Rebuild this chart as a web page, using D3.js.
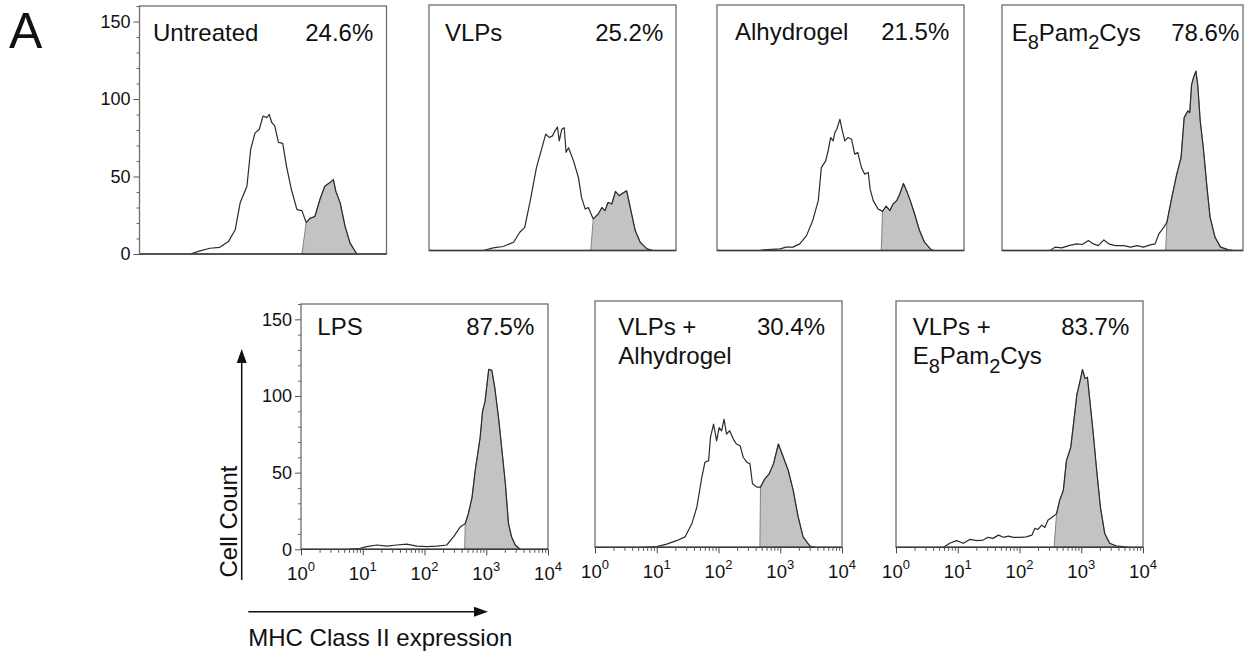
<!DOCTYPE html>
<html><head><meta charset="utf-8">
<script src="https://cdn.jsdelivr.net/npm/d3@7"></script>
<style>
body{margin:0;background:#fff}
svg{display:block}
text{font-family:"Liberation Sans",Arial,Helvetica,sans-serif;fill:#111}
</style>
</head><body>
<svg id="chart" width="1244" height="657"></svg>
<script>
// ---------------- DATA ----------------
const panelLines = [["Untreated"],["VLPs"],["Alhydrogel"],["E_8Pam_2Cys"],["LPS"],["VLPs +","Alhydrogel"],["VLPs +","E_8Pam_2Cys"]];
const panelPercents = ["24.6%","25.2%","21.5%","78.6%","87.5%","30.4%","83.7%"];
const gateExponents = [2.63,2.62,2.66,2.65,2.65,2.67,2.56];
const yTickValues = [0,50,100,150];
const yMinorValues = [0,10,20,30,40,50,60,70,80,90,100,110,120,130,140,150,160];
const xTickValues = [1,10,100,1000,10000];
const xTickExponents = ["0","1","2","3","4"];
const xMinorMultipliers = [2,3,4,5,6,7,8,9];
const xDecades = [1,10,100,1000];
const yAxisTitle = "Cell Count";
const xAxisTitle = "MHC Class II expression";
const figureLetter = "A";

// each histogram point: [log10 intensity, cell count]
const histUntreated = [[0.82,0],[0.98,2],[1.14,3.7],[1.30,4.3],[1.44,8],[1.55,15.6],[1.63,33],[1.74,43.7],[1.80,67.5],[1.87,78],[1.94,80.5],[2.00,89],[2.06,88],[2.10,90],[2.14,85],[2.19,82.7],[2.25,72],[2.32,71.4],[2.38,56.7],[2.46,41.6],[2.55,28.6],[2.63,28],[2.70,20.3],[2.76,23],[2.84,24.2],[2.92,35],[3.00,43.7],[3.09,46.3],[3.14,48],[3.18,40.4],[3.25,33],[3.33,17.7],[3.41,7],[3.52,0]];
const histVLPs = [[0.88,0],[1.04,1.7],[1.20,2.6],[1.37,5.4],[1.47,11.9],[1.55,15.1],[1.64,32.5],[1.74,54],[1.83,67],[1.89,75.8],[1.95,73.6],[2.00,74.7],[2.04,78],[2.08,80.5],[2.11,71.4],[2.15,79],[2.19,80],[2.22,64],[2.26,67],[2.34,58.4],[2.42,47.6],[2.47,34.6],[2.53,27],[2.58,28],[2.66,20.6],[2.74,23.8],[2.80,28],[2.85,26],[2.90,31.4],[2.96,30.3],[3.02,38.5],[3.08,35.7],[3.13,37.2],[3.20,39],[3.27,26],[3.34,13],[3.42,5.4],[3.53,1.1],[3.63,0]];
const histAlhydrogel = [[0.70,0],[0.75,0.4],[1.02,1.1],[1.12,2.2],[1.23,2.2],[1.34,4.3],[1.45,9.7],[1.55,19.5],[1.64,32.5],[1.69,54],[1.76,58.4],[1.80,65],[1.84,73.6],[1.88,71.4],[1.91,77],[1.94,79],[1.99,85.5],[2.03,78],[2.07,71.4],[2.12,73.6],[2.18,72.5],[2.23,62.8],[2.28,63.8],[2.34,54],[2.39,49.8],[2.45,50.8],[2.48,40],[2.53,32.5],[2.61,27],[2.68,25.5],[2.74,29],[2.80,26],[2.85,30.3],[2.91,32.5],[2.96,36.8],[3.02,43.7],[3.08,37.9],[3.13,32.5],[3.20,23.8],[3.28,13],[3.36,5.4],[3.47,0.4],[3.52,0]];
const histE8Pam2Cys = [[0.78,0],[0.86,2.2],[0.97,1.7],[1.08,3.2],[1.21,4.3],[1.30,3.9],[1.40,6.5],[1.48,4.3],[1.56,3.2],[1.65,6.9],[1.73,4.3],[1.83,3.2],[1.97,3.2],[2.08,2.2],[2.19,3.2],[2.29,2.2],[2.40,3.7],[2.48,4.3],[2.54,10.8],[2.62,15.1],[2.67,18.4],[2.75,34.6],[2.83,49.8],[2.90,60.6],[2.95,86.6],[3.01,91],[3.04,89.8],[3.07,108],[3.10,112.6],[3.14,116.9],[3.17,108],[3.21,84.4],[3.26,67],[3.32,41],[3.37,21.6],[3.45,8.6],[3.54,2.2],[3.67,0.4],[3.75,0]];
const histLPS = [[0.77,0],[0.96,0.6],[1.06,1.7],[1.23,2.8],[1.39,2.1],[1.55,2.8],[1.71,3.4],[1.88,2.1],[2.04,1.7],[2.20,2.1],[2.36,2.8],[2.47,8.1],[2.58,14.6],[2.66,16.8],[2.71,23.2],[2.77,33.9],[2.82,51],[2.90,72.6],[2.94,89.9],[2.98,96.3],[3.04,117.4],[3.09,116.8],[3.14,104.9],[3.20,85.5],[3.25,66.2],[3.31,42.6],[3.36,16.8],[3.41,8.1],[3.47,2.8],[3.55,0]];
const histVLPsAlhydrogel = [[0.78,0],[1.00,0.4],[1.16,2.1],[1.32,4.3],[1.46,6.8],[1.57,15.5],[1.65,26.2],[1.73,45.5],[1.78,55.2],[1.84,56.3],[1.87,71.4],[1.92,80],[1.97,69.2],[2.01,77.8],[2.05,75.7],[2.09,83.2],[2.13,73.5],[2.18,75.7],[2.24,70.3],[2.29,67.1],[2.35,66],[2.40,58.5],[2.46,55.2],[2.51,54.2],[2.55,41.3],[2.62,39.1],[2.68,39.1],[2.75,44.5],[2.82,47.7],[2.89,54.2],[2.97,67.1],[3.05,58.5],[3.13,49.9],[3.21,37],[3.29,19.7],[3.37,6.8],[3.48,0.8],[3.56,0]];
const histVLPsE8Pam2Cys = [[0.77,0],[0.87,2.6],[0.98,4.3],[1.09,2.6],[1.20,5.2],[1.31,4.3],[1.41,4.7],[1.49,6.5],[1.57,5.8],[1.66,7.9],[1.74,6.5],[1.82,7.3],[1.90,6.5],[2.01,6.5],[2.11,6.8],[2.20,7.9],[2.25,12.3],[2.30,11.6],[2.36,14.4],[2.41,12.9],[2.46,17.6],[2.55,20.2],[2.60,21.9],[2.65,30.5],[2.71,37],[2.76,56.3],[2.83,64.9],[2.88,82.1],[2.93,99.4],[2.98,108],[3.02,115.5],[3.06,109.7],[3.10,110.5],[3.14,95],[3.19,75.7],[3.25,49.9],[3.31,26.2],[3.38,9],[3.46,2.6],[3.57,0.8],[3.68,0.4],[3.75,0]];
const histograms = [histUntreated,histVLPs,histAlhydrogel,histE8Pam2Cys,histLPS,histVLPsAlhydrogel,histVLPsE8Pam2Cys];

// ---------------- LAYOUT ----------------
const PLOT_W = 247;
const layout = [
  {x:139.5,y:6, w:247,h:248,  yAxis:true, xAxis:false, lx:13.5, ly:34.7, px:373.3, lh:29},
  {x:429,  y:5, w:247,h:245.5,yAxis:false,xAxis:false, lx:16,   ly:35.7, px:663.3, lh:29},
  {x:717,  y:5, w:247,h:245.5,yAxis:false,xAxis:false, lx:18,   ly:35.3, px:949.3, lh:29},
  {x:1002, y:5, w:241,h:245.5,yAxis:false,xAxis:false, lx:9.7,  ly:35.7, px:1239.3,lh:29},
  {x:301,  y:304,w:247,h:245.3,yAxis:true, xAxis:true, lx:16.3, ly:31,   px:534.3, lh:29},
  {x:595,  y:301,w:247,h:246.3,yAxis:false,xAxis:true, lx:23.3, ly:34,   px:825,   lh:29},
  {x:896,  y:301,w:247,h:246.3,yAxis:false,xAxis:true, lx:16.7, ly:34,   px:1129.3,lh:29}
];

const svg = d3.select("#chart");

function addRichText(sel, str, mainSize, subSize){
  // "_d" marks a subscript character
  const parts = str.split(/(_.)/).filter(s=>s.length);
  let lastSub = false;
  parts.forEach(p=>{
    if(p[0]==="_"){
      sel.append("tspan").attr("font-size",subSize).attr("dy",8.5).text(p.slice(1));
      lastSub = true;
    } else {
      sel.append("tspan").attr("font-size",mainSize).attr("dy",lastSub?-8.5:0).text(p);
      lastSub = false;
    }
  });
}

histograms.forEach((data,i)=>{
  const p = layout[i];
  const g = svg.append("g");
  const x = d3.scaleLog().domain([1,1e4]).range([p.x, p.x+PLOT_W]);
  const y = d3.scaleLinear().domain([0,160]).range([p.y+p.h, p.y]);
  const gate = gateExponents[i];

  const gated = [[gate,0]].concat(data.filter(d=>d[0]>gate));
  const area = d3.area().x(d=>x(Math.pow(10,d[0]))).y0(y(0)).y1(d=>y(d[1]));
  const line = d3.line().x(d=>x(Math.pow(10,d[0]))).y(d=>y(d[1]));

  g.append("path").attr("d",area(gated)).attr("fill","#c3c3c3").attr("stroke","#777").attr("stroke-width",0.9);
  g.append("path").attr("d",line(data)).attr("fill","none").attr("stroke","#2b2b2b").attr("stroke-width",1.2).attr("stroke-linejoin","round");

  g.append("rect").attr("x",p.x).attr("y",p.y).attr("width",p.w).attr("height",p.h)
    .attr("fill","none").attr("stroke","#6e6e6e").attr("stroke-width",1.3);
  g.append("line").attr("x1",p.x).attr("x2",p.x+p.w).attr("y1",y(0)).attr("y2",y(0))
    .attr("stroke","#3a3a3a").attr("stroke-width",1.4);

  if(p.yAxis){
    const ya = g.append("g").attr("transform",`translate(${p.x},0)`)
      .call(d3.axisLeft(y).tickValues(yTickValues).tickSize(6).tickPadding(3));
    ya.select(".domain").remove();
    ya.selectAll("line").attr("stroke","#555");
    ya.selectAll("text").attr("font-size",18).attr("fill","#222").attr("font-family",null);
    const ym = g.append("g").attr("transform",`translate(${p.x},0)`)
      .call(d3.axisLeft(y).tickValues(yMinorValues.filter(v=>yTickValues.indexOf(v)<0)).tickSize(3).tickFormat(""));
    ym.select(".domain").remove();
    ym.selectAll("line").attr("stroke","#666");
  }
  if(p.xAxis){
    const base = p.y+p.h;
    const xa = g.append("g").attr("transform",`translate(0,${base})`)
      .call(d3.axisBottom(x).tickValues(xTickValues).tickSize(6).tickFormat(""));
    xa.select(".domain").remove();
    xa.selectAll("line").attr("stroke","#444");
    const minors = [];
    xDecades.forEach(dd=>xMinorMultipliers.forEach(m=>minors.push(dd*m)));
    const xm = g.append("g").attr("transform",`translate(0,${base})`)
      .call(d3.axisBottom(x).tickValues(minors).tickSize(3.5).tickFormat(""));
    xm.select(".domain").remove();
    xm.selectAll("line").attr("stroke","#555");
    xTickValues.forEach((v,k)=>{
      const t = g.append("text").attr("x",x(v)).attr("y",base+30.7).attr("text-anchor","middle").attr("fill","#222");
      t.append("tspan").attr("font-size",18.5).text("10");
      t.append("tspan").attr("font-size",13).attr("dy",-9).text(xTickExponents[k]);
    });
  }

  panelLines[i].forEach((ln,k)=>{
    const t = g.append("text").attr("x",p.x+p.lx).attr("y",p.y+p.ly+k*p.lh);
    addRichText(t, ln, 24, 20);
  });
  g.append("text").attr("x",p.px).attr("y",p.y+p.ly).attr("text-anchor","end").attr("font-size",24).text(panelPercents[i]);
});

// figure letter
svg.append("text").attr("x",9).attr("y",47.7).attr("font-size",50).text(figureLetter);

// axis titles with arrows
svg.append("text").attr("transform","translate(236.5,521.5) rotate(-90)").attr("text-anchor","middle").attr("font-size",24).text(yAxisTitle);
svg.append("line").attr("x1",241.7).attr("x2",241.7).attr("y1",580).attr("y2",360).attr("stroke","#111").attr("stroke-width",1.5);
svg.append("path").attr("d","M241.7,349 L236.7,363 L246.7,363 Z").attr("fill","#111");

svg.append("line").attr("x1",248.3).attr("x2",476).attr("y1",611.7).attr("y2",611.7).attr("stroke","#111").attr("stroke-width",1.5);
svg.append("path").attr("d","M488,611.7 L474,606.7 L474,616.7 Z").attr("fill","#111");
svg.append("text").attr("x",248.3).attr("y",645.7).attr("font-size",24).text(xAxisTitle);
</script>
</body></html>
